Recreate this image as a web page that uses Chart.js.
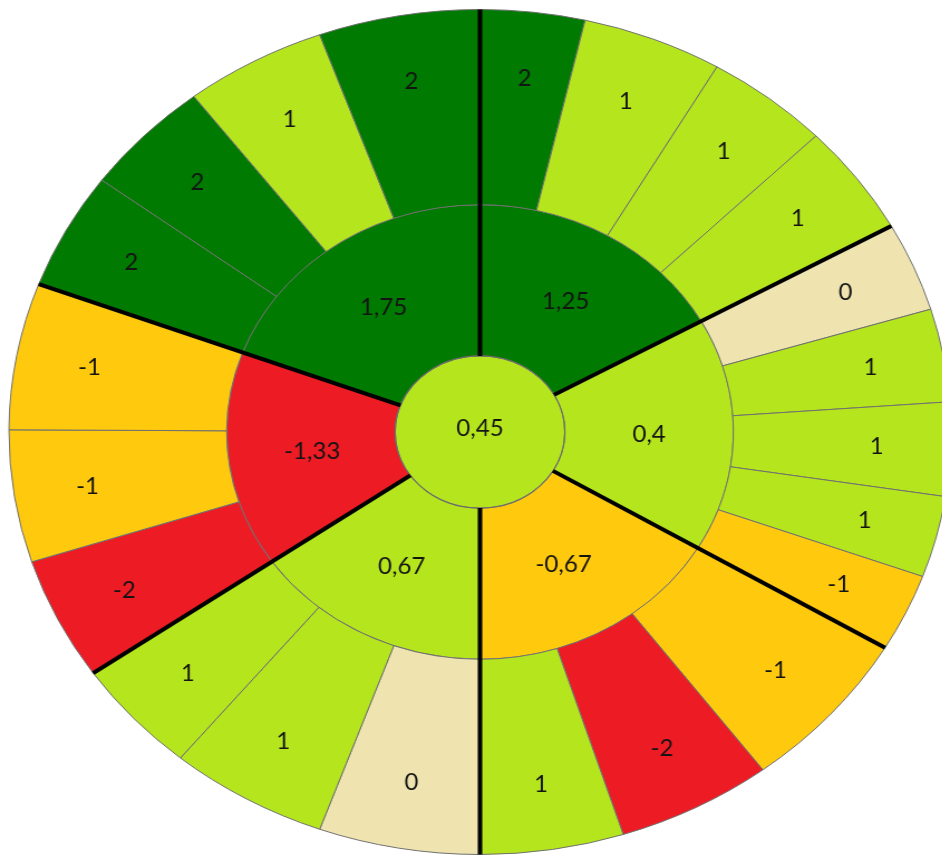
<!DOCTYPE html>
<html>
<head>
<meta charset="utf-8">
<script src="https://cdn.jsdelivr.net/npm/chart.js@4/dist/chart.umd.min.js"></script>
<style>
html, body { margin: 0; padding: 0; background: #ffffff; overflow: hidden; }
#wrap { position: relative; width: 942px; height: 855px; overflow: hidden; background: #ffffff; }
#c { position: absolute; left: 0; top: 0; transform-origin: 0 0; transform: scaleX(1.115); }
</style>
</head>
<body>
<div id="wrap"><canvas id="c" width="861" height="855"></canvas></div>
<script>
// ---- data ----
const centerScore = 0.45;
const groupScores = [1.25, 0.4, -0.67, 0.67, -1.33, 1.75];
// angular size of each group (degrees, clockwise from 12 o'clock)
const groupSpans = [60.8, 59.9, 59.3, 55.2, 55.3, 69.5];
// outer ring: scores of the leaves in each group
const leafScores = [
  [2, 1, 1, 1],
  [0, 1, 1, 1, -1],
  [-1, -2, 1],
  [0, 1, 1],
  [-2, -1, -1],
  [2, 2, 1, 2]
];
// angular size of each leaf (degrees)
const leafSpans = [
  [12.9, 17.3, 15.3, 15.3],
  [12.3, 12.8, 12.9, 11.2, 10.7],
  [22.4, 19.2, 17.7],
  [19.9, 19.6, 15.7],
  [16.9, 18.2, 20.2],
  [16.1, 16.0, 17.5, 19.9]
];

// ---- styling ----
const STRETCH_X = 1.115;
function colorFor(v) {
  if (v > 1) return '#007a00';
  if (v > 0) return '#b5e61d';
  if (v === 0) return '#efe4b0';
  if (v >= -1) return '#ffc90e';
  return '#ed1c24';
}
const fmt = v => String(v).replace('.', ',');

const flatLeafScores = leafScores.flat();
const flatLeafSpans = leafSpans.flat();

const decor = {
  id: 'decor',
  afterDatasetsDraw(chart) {
    const ctx = chart.ctx;
    const outer = chart.getDatasetMeta(0).data;
    const mid = chart.getDatasetMeta(1).data;
    const ctr = chart.getDatasetMeta(2).data[0];
    const cx = ctr.x, cy = ctr.y;
    const rIn = mid[0].innerRadius;
    const rOut = outer[0].outerRadius;
    ctx.save();
    // centre circle outline
    ctx.beginPath();
    ctx.arc(cx, cy, rIn, 0, Math.PI * 2);
    ctx.strokeStyle = '#6b6b6b';
    ctx.lineWidth = 1.2;
    ctx.stroke();
    // thick group separators
    ctx.strokeStyle = '#000000';
    ctx.lineWidth = 4;
    ctx.lineCap = 'butt';
    mid.forEach(a => {
      const t = a.startAngle;
      ctx.beginPath();
      ctx.moveTo(cx + rIn * Math.cos(t), cy + rIn * Math.sin(t));
      ctx.lineTo(cx + rOut * Math.cos(t), cy + rOut * Math.sin(t));
      ctx.stroke();
    });
    // labels
    ctx.fillStyle = '#141414';
    ctx.font = '24px Lato, "Open Sans", sans-serif';
    ctx.textAlign = 'center';
    ctx.textBaseline = 'middle';
    const put = (txt, x, y) => {
      ctx.save();
      ctx.translate(x, y);
      ctx.scale(1 / STRETCH_X, 1);
      ctx.fillText(txt, 0, 0);
      ctx.restore();
    };
    outer.forEach((a, i) => {
      const t = (a.startAngle + a.endAngle) / 2;
      const r = a.innerRadius + 0.66 * (a.outerRadius - a.innerRadius);
      put(fmt(flatLeafScores[i]), cx + r * Math.cos(t), cy + r * Math.sin(t));
    });
    mid.forEach((a, i) => {
      const t = (a.startAngle + a.endAngle) / 2;
      const r = (a.innerRadius + a.outerRadius) / 2;
      put(fmt(groupScores[i]), cx + r * Math.cos(t), cy + r * Math.sin(t));
    });
    put(fmt(centerScore), cx, cy - 4);
    ctx.restore();
  }
};

new Chart(document.getElementById('c'), {
  type: 'doughnut',
  data: {
    labels: flatLeafScores.map(fmt),
    datasets: [
      {
        data: flatLeafSpans,
        backgroundColor: flatLeafScores.map(colorFor),
        borderColor: '#707070',
        borderWidth: 1,
        weight: 195
      },
      {
        data: groupSpans,
        backgroundColor: groupScores.map(colorFor),
        borderColor: '#707070',
        borderWidth: 1,
        weight: 151
      },
      {
        data: [360],
        backgroundColor: [colorFor(centerScore)],
        borderWidth: 0,
        weight: 76
      }
    ]
  },
  options: {
    responsive: false,
    animation: false,
    cutout: 0,
    hoverOffset: 0,
    layout: { padding: { top: 9, bottom: 0, left: 0, right: 0 } },
    plugins: {
      legend: { display: false },
      tooltip: { enabled: false }
    }
  },
  plugins: [decor]
});
</script>
</body>
</html>
